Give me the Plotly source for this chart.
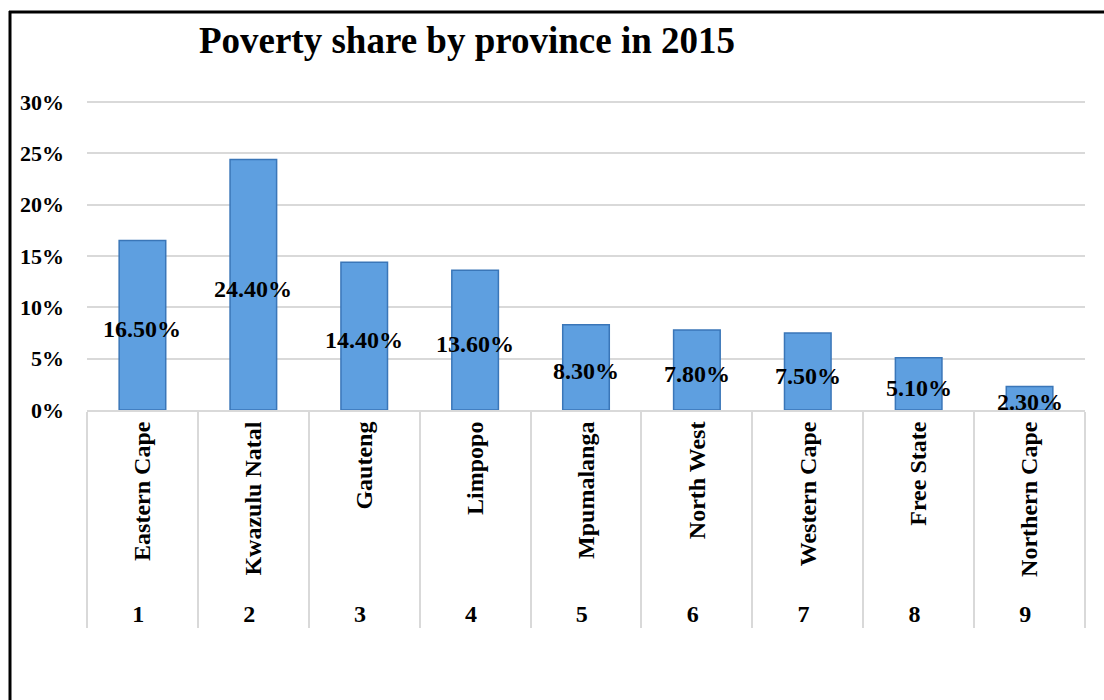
import plotly.graph_objects as go

provinces = ["Eastern Cape", "Kwazulu Natal", "Gauteng", "Limpopo", "Mpumalanga",
             "North West", "Western Cape", "Free State", "Northern Cape"]
ranks = ["1", "2", "3", "4", "5", "6", "7", "8", "9"]
shares = [0.165, 0.244, 0.144, 0.136, 0.083, 0.078, 0.075, 0.051, 0.023]
share_labels = ["16.50%", "24.40%", "14.40%", "13.60%", "8.30%", "7.80%", "7.50%", "5.10%", "2.30%"]
y_ticks = [0, 0.05, 0.10, 0.15, 0.20, 0.25, 0.30]
y_tick_text = ["0%", "5%", "10%", "15%", "20%", "25%", "30%"]

FONT = "Liberation Serif, Times New Roman, serif"
x = [ranks, provinces]

fig = go.Figure()
fig.add_trace(go.Bar(
    x=x, y=shares, width=0.42,
    marker=dict(color="#5E9FE0", line=dict(color="#3A76B8", width=1.5)),
    hoverinfo="skip", showlegend=False,
))

for r, p, v, t in zip(ranks, provinces, shares, share_labels):
    fig.add_annotation(
        x=[r, p], y=v / 2, text=t, showarrow=False, yshift=-4,
        font=dict(family=FONT, size=24, color="black", weight="bold"),
        xanchor="center", yanchor="middle",
    )

W, H = 1104, 700
L, R, T, B = 87, 19, 100, 290
pw, ph = W - L - R, H - T - B
ymax = 0.30 * ph / 308

def px(xp):
    return (xp - L) / pw

def py(yp):
    return (H - B - yp) / ph

fig.update_layout(
    width=W, height=H,
    margin=dict(l=L, r=R, t=T, b=B),
    paper_bgcolor="white", plot_bgcolor="white",
    font=dict(family=FONT, color="black"),
    title=dict(text="Poverty share by province in 2015",
               font=dict(family=FONT, size=37, color="black", weight="bold"),
               x=px(467), xref="paper", xanchor="center",
               y=1 - 40 / H, yref="container", yanchor="middle"),
    xaxis=dict(
        type="multicategory", tickangle=-90,
        tickfont=dict(family=FONT, size=24, color="black", weight="bold"),
        showdividers=True, dividercolor="#d9d9d9", dividerwidth=2,
        showline=True, linecolor="#d9d9d9", linewidth=2,
        showgrid=False, ticks="",
    ),
    yaxis=dict(
        range=[0, ymax], tickvals=y_ticks, ticktext=y_tick_text,
        tickfont=dict(family=FONT, size=22, color="black", weight="bold"),
        showgrid=True, gridcolor="#d9d9d9", gridwidth=2,
        zeroline=False, showline=False, ticks="", ticklabelstandoff=22,
    ),
    shapes=[
        dict(type="line", xref="paper", yref="paper",
             x0=px(10), x1=px(10), y0=py(11), y1=py(705),
             line=dict(color="black", width=3)),
        dict(type="line", xref="paper", yref="paper",
             x0=px(9), x1=px(1110), y0=py(12), y1=py(12),
             line=dict(color="black", width=3)),
    ],
)

fig.write_html("out.html")
